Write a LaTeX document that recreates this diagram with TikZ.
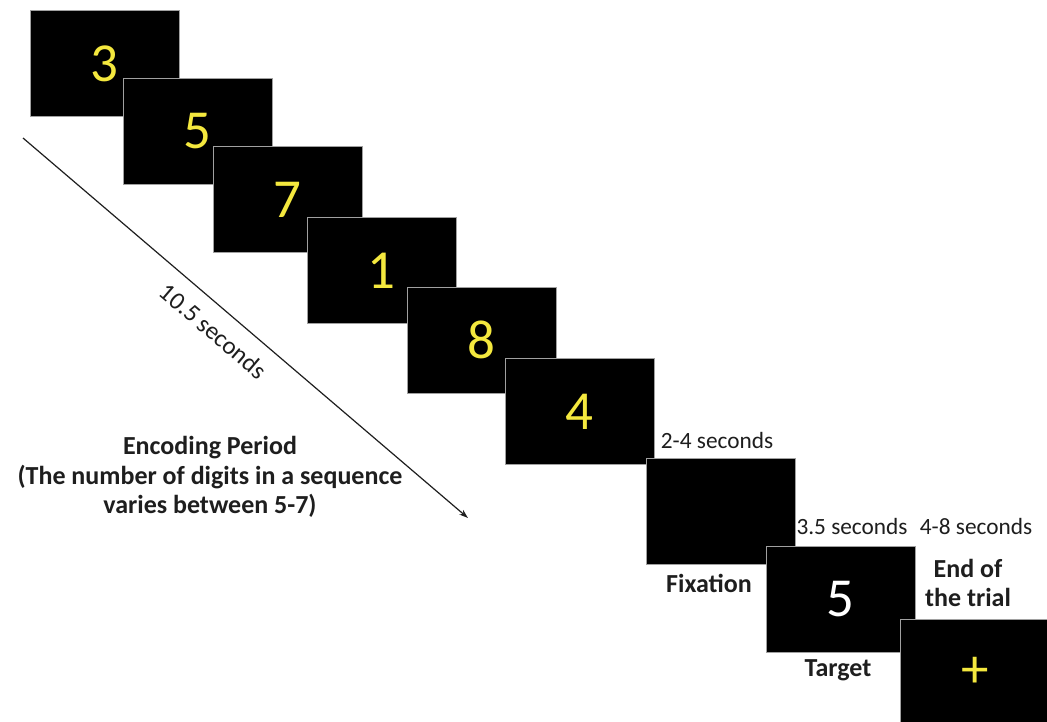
\documentclass[tikz,border=0pt]{standalone}
\usepackage{fontspec}
\setmainfont{Carlito}
\usetikzlibrary{arrows.meta}
\definecolor{digit}{RGB}{244,232,62}
\definecolor{frame}{RGB}{160,160,160}
\definecolor{ink}{RGB}{30,30,30}
\begin{document}
\begin{tikzpicture}[x=1pt,y=-1pt,
  screen/.style={fill=black, draw=frame, line width=0.8pt,
    minimum width=149pt, minimum height=106pt, inner sep=0pt,
    anchor=north west, text=digit, font=\fontsize{55}{55}\selectfont},
  plain label/.style={inner sep=0pt, text=ink, font=\fontsize{23.3}{28}\selectfont},
  bold label/.style={inner sep=0pt, text=ink, align=center,
    font=\bfseries\fontsize{26}{29.5}\selectfont},
  timeline/.style={draw=ink, line width=1.2pt, -{Stealth[length=9pt,width=6pt]}}]
\clip (0,0) rectangle (1047,721);
\fill[white] (0,0) rectangle (1047,721);

% encoding sequence, each screen drawn over the previous one
\node[screen] (d1) at (30,10)   {3};
\node[screen] (d2) at (123,78)  {5};
\node[screen] (d3) at (213,146) {7};
\node[screen] (d4) at (307,217) {1};
\node[screen] (d5) at (407,287) {8};
\node[screen] (d6) at (505,358) {4};

% fixation, target and end of trial
\node[screen] (fix) at (646,458) {};
\node[screen, text=white] (tgt) at (766,546) {5};
\node[screen] (end) at (900,619) {+};

% time axis of the encoding period
\coordinate (t0) at (23,138);
\coordinate (t1) at (468,518);
\draw[timeline] (t0) -- (t1)
  node[plain label, font=\fontsize{25}{30}\selectfont, pos=0.462, sloped,
       below=23pt, anchor=center] (dur) {10.5 seconds};

\node[bold label] (enc) at (210,477)
  {Encoding Period\\(The number of digits in a sequence\\varies between 5-7)};

\node[plain label] (s24) at (717,440) {2-4 seconds};
\node[plain label] (s35) at (852,526) {3.5 seconds};
\node[plain label] (s48) at (976,526) {4-8 seconds};
\node[bold label] (lfix) at (709,583) {Fixation};
\node[bold label] (ltgt) at (838,670) {Target};
\node[bold label] (lend) at (968,583) {End of\\the trial};
\end{tikzpicture}
\end{document}
